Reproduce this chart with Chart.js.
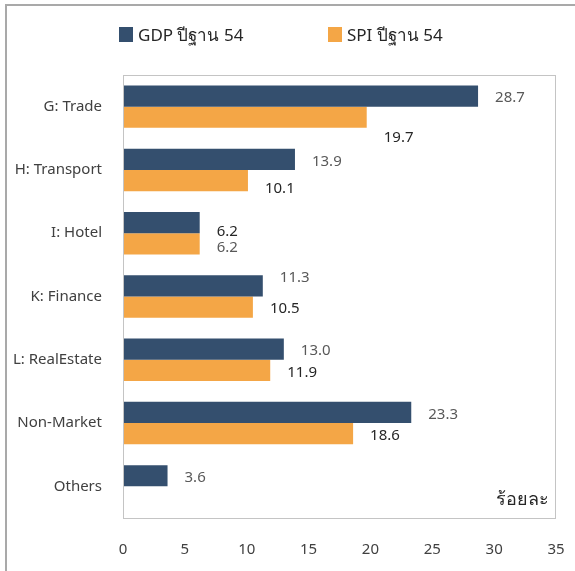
<!DOCTYPE html>
<html>
<head>
<meta charset="utf-8">
<script src="https://cdn.jsdelivr.net/npm/chart.js@4.4.1/dist/chart.umd.min.js"></script>
<style>
    html, body { margin: 0; padding: 0; background: #fff; }
    #wrap { position: relative; width: 575px; height: 571px; overflow: hidden; }
    #frame { position: absolute; left: 5px; top: 4px; width: 600px; height: 600px;
             border-left: 2px solid #a9a9a9; border-top: 2px solid #a9a9a9; }
    #chart { position: absolute; left: 0; top: 0; }
</style>
</head>
<body>
<div id="wrap">
    <div id="frame"></div>
    <canvas id="chart" width="575" height="571"></canvas>
</div>
<script>
(function () {
    "use strict";

    // Data
    const categories = ['G: Trade', 'H: Transport', 'I: Hotel', 'K: Finance', 'L: RealEstate', 'Non-Market', 'Others'];
    const gdpShare = [28.7, 13.9, 6.2, 11.3, 13.0, 23.3, 3.6];
    const spiShare = [19.7, 10.1, 6.2, 10.5, 11.9, 18.6, null];
    const seriesNames = ['GDP ปีฐาน 54', 'SPI ปีฐาน 54'];
    const xMin = 0, xMax = 35, xStep = 5;
    const unitLabel = 'ร้อยละ';

    // Colors
    const navy = '#344f6e';
    const orange = '#f4a646';
    const labelGray = '#595959';
    const labelDark = '#262626';
    const fontFamily = '"Noto Sans", "DejaVu Sans", sans-serif';

    // hand-moved data labels (y nudge in px per point, like the original)
    const labelNudge = [
        [0, 0, 23, -10, 0, 0, 0],
        [18, 6, -14, 0, 0, 0, 0]
    ];

    // Value labels, legend, plot box, unit text
    const decor = {
        id: 'decor',
        afterDatasetsDraw(chart) {
            const ctx = chart.ctx;
            const area = chart.chartArea;
            ctx.save();

            // plot box
            ctx.strokeStyle = '#c4c4c4';
            ctx.lineWidth = 1;
            ctx.strokeRect(area.left + 0.5, area.top + 0.5, area.right - area.left - 1, area.bottom - area.top);

            // value labels
            ctx.font = '15px ' + fontFamily;
            ctx.textAlign = 'left';
            ctx.textBaseline = 'middle';
            chart.data.datasets.forEach((ds, di) => {
                const meta = chart.getDatasetMeta(di);
                meta.data.forEach((bar, i) => {
                    const v = ds.data[i];
                    if (v == null) return;
                    ctx.fillStyle = di === 0 ? labelGray : labelDark;
                    ctx.fillText(v.toFixed(1), bar.x + 17, bar.y + 2 + labelNudge[di][i]);
                });
            });

            // unit
            ctx.font = '18px ' + fontFamily;
            ctx.fillStyle = labelDark;
            ctx.textAlign = 'right';
            ctx.fillText(unitLabel, area.right - 7, area.bottom - 18);

            // legend
            const colors = [navy, orange];
            const boxX = [119, 328];
            ctx.font = '17px ' + fontFamily;
            ctx.textAlign = 'left';
            seriesNames.forEach((name, i) => {
                ctx.fillStyle = colors[i];
                ctx.fillRect(boxX[i], 27, 14, 15);
                ctx.fillStyle = labelDark;
                ctx.fillText(name, boxX[i] + 19, 36);
            });
            ctx.restore();
        }
    };

    new Chart(document.getElementById('chart'), {
        type: 'bar',
        data: {
            labels: categories,
            datasets: [{
                label: seriesNames[0],
                data: gdpShare,
                backgroundColor: navy,
                categoryPercentage: 0.67,
                barPercentage: 1.0
            }, {
                label: seriesNames[1],
                data: spiShare,
                backgroundColor: orange,
                categoryPercentage: 0.67,
                barPercentage: 1.0
            }]
        },
        options: {
            indexAxis: 'y',
            responsive: false,
            animation: false,
            layout: {
                padding: { top: 75, right: 19, bottom: 0, left: 0 }
            },
            scales: {
                x: {
                    min: xMin,
                    max: xMax,
                    grid: {
                        display: true,
                        color: 'rgba(0,0,0,0)',
                        drawOnChartArea: false,
                        drawTicks: true,
                        tickLength: 23
                    },
                    border: { display: false },
                    ticks: {
                        stepSize: xStep,
                        padding: 0,
                        color: '#404040',
                        font: { family: fontFamily, size: 15 }
                    },
                    afterFit(scale) { scale.height = 53; }
                },
                y: {
                    grid: { display: false, drawTicks: false },
                    border: { display: false },
                    ticks: {
                        padding: 21,
                        color: '#404040',
                        font: { family: fontFamily, size: 15 }
                    },
                    afterFit(scale) { scale.width = 123; }
                }
            },
            plugins: {
                legend: { display: false },
                tooltip: { enabled: false }
            }
        },
        plugins: [decor]
    });
})();
</script>
</body>
</html>
